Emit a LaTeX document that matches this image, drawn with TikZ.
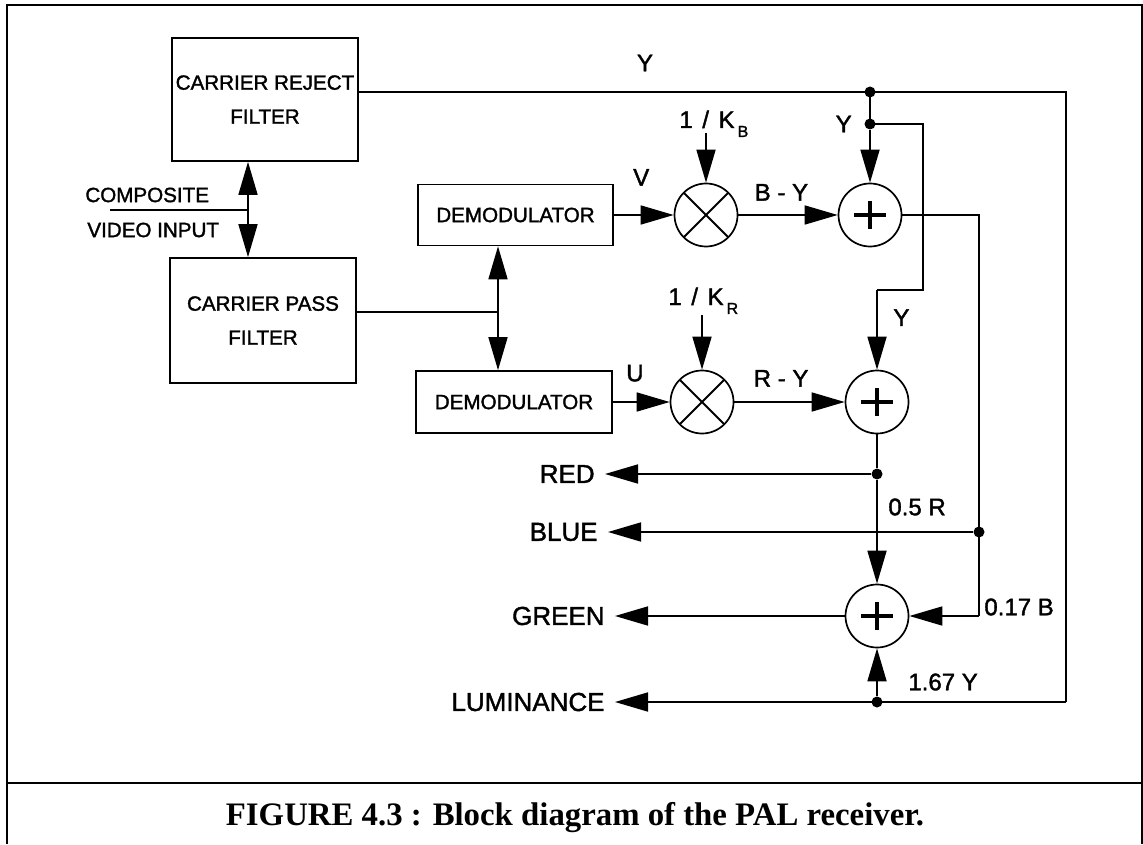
\documentclass[tikz,border=0pt]{standalone}
\usepackage{fontspec}
\setmainfont{Liberation Sans}[BoldFont={Liberation Sans}, BoldFeatures={FakeBold=1.6}]
\newfontfamily\capfont{Liberation Serif}
\usetikzlibrary{arrows.meta,positioning}
\newcommand{\gp}{\hspace{0.4em}}
\newcommand{\subsc}[1]{\kern1.5pt\raisebox{-4.5pt}{\fontsize{8}{8}\selectfont #1}}
\tikzset{
  blk/.style  ={draw, line width=0.85pt, align=center, inner sep=0pt, font=\bfseries\fontsize{10.3}{17}\selectfont},
  txt/.style  ={inner sep=0pt, anchor=west, font=\bfseries\fontsize{10.3}{12}\selectfont},
  mix/.style  ={circle, draw, line width=0.85pt, minimum size=31.5pt, inner sep=0pt,
                path picture={\draw[line width=1pt]
                  ([shift={(45:17pt)}]path picture bounding box.center) -- ([shift={(225:17pt)}]path picture bounding box.center)
                  ([shift={(135:17pt)}]path picture bounding box.center) -- ([shift={(315:17pt)}]path picture bounding box.center);}},
  sum/.style  ={circle, draw, line width=0.85pt, minimum size=31.5pt, inner sep=0pt,
                path picture={\draw[line width=1.6pt]
                  ([xshift=-8pt]path picture bounding box.center) -- ([xshift=8pt]path picture bounding box.center)
                  ([yshift=-7pt]path picture bounding box.center) -- ([yshift=7pt]path picture bounding box.center);}},
  jn/.style   ={circle, fill, inner sep=0pt, minimum size=5.5pt},
  lbl/.style  ={inner sep=0pt, font=\bfseries\fontsize{12}{14}\selectfont},
  outl/.style ={anchor=east, inner xsep=5pt, inner ysep=0pt, font=\bfseries\fontsize{13}{15}\selectfont},
  wire/.style ={line width=0.85pt},
  arr/.style  ={-{Triangle[length=16.5pt,width=9.5pt]}, line width=0.85pt},
  frm/.style  ={line width=1.2pt},
}

\begin{document}
\begin{tikzpicture}[x=0.5pt, y=-0.5pt]
  \useasboundingbox (0,0) rectangle (1143,844);
  % frame and caption
  \draw[frm] (7,844) -- (7,5) -- (1142,5) -- (1142,844);
  \draw[frm] (7,783) -- (1142,783);
  \node[anchor=base, inner sep=0pt, font=\capfont\bfseries\fontsize{16.4}{18}\selectfont] (cap) at (575,825)
    {FIGURE 4.3 : Block diagram of the PAL receiver.};
  % filters and demodulators
  \node[blk, minimum width=93pt, minimum height=61.5pt] (crf) at (265,99.5) {CARRIER REJECT\\FILTER};
  \node[blk, minimum width=93pt, minimum height=62.5pt] (cpf) at (263,320.5) {CARRIER PASS\\FILTER};
  \node[blk, minimum width=97.5pt, minimum height=30.5pt] (dmv) at (515.5,215) {DEMODULATOR};
  \node[blk, minimum width=98pt, minimum height=31pt] (dmu) at (514,402) {DEMODULATOR};
  % multipliers and adders
  \node[mix] (mxv) at (706,215) {};
  \node[mix] (mxu) at (702,402) {};
  \node[sum] (smb) at (870,215) {};
  \node[sum] (smr) at (877,402) {};
  \node[sum] (smg) at (877,616) {};
  % junctions
  \node[jn] (jy1) at (870,92) {};
  \node[jn] (jy2) at (870,124) {};
  \node[jn] (rdot) at (877,474) {};
  \node[jn] (bdot) at (979,532) {};
  \node[jn] (ldot) at (877,702) {};
  \coordinate (cin) at (110,210);
  \coordinate (jin) at (248,210);
  \coordinate (jd) at (498,312);
  \coordinate (kb) at (706,133);
  \coordinate (kr) at (702,315);
  \coordinate (cr) at (1066,92);
  \coordinate (cb) at (1066,702);
  \coordinate (c1) at (923,124);
  \coordinate (c2) at (923,290);
  \coordinate (c3) at (877,290);
  \coordinate (cbt) at (979,215);
  \coordinate (cgr) at (979,616);
  % outputs
  \node[outl] (red) at (605,474) {RED};
  \node[outl] (blue) at (608,532) {BLUE};
  \node[outl] (green) at (615,616) {GREEN};
  \node[outl] (lum) at (615,702) {LUMINANCE};
  % labels
  \node[txt] (comp) at (85,195) {COMPOSITE};
  \node[txt] (vin) at (87,230) {VIDEO INPUT};
  \node[lbl] (ytop) at (645,63) {Y};
  \node[lbl, anchor=base west] (kbl) at (679,128) {1\gp/\gp K\subsc{B}};
  \node[lbl, anchor=base west] (krl) at (668,305) {1\gp/\gp K\subsc{R}};
  \node[lbl, above right=14.5pt and 9.5pt of dmv.east] (vl) {V};
  \node[lbl, above right=10pt and 6.5pt of dmu.east] (ul) {U};
  \node[lbl, above right=7pt and 8pt of mxv.east] (byl) {B - Y};
  \node[lbl, above right=7.5pt and 9.5pt of mxu.east] (ryl) {R - Y};
  \node[lbl, left=6pt of jy2] (yl1) {Y};
  \node[lbl, below right=9.5pt and 8pt of c3] (yl2) {Y};
  \node[lbl, anchor=west] (rl) at (888,507) {0.5 R};
  \node[lbl, anchor=west] (bl) at (984,607) {0.17 B};
  \node[lbl, anchor=west] (yl3) at (908,682) {1.67 Y};
  % input side
  \draw[wire] (cin) -- (jin);
  \draw[arr] (jin) -- (jin |- crf.south);
  \draw[arr] (jin) -- (jin |- cpf.north);
  \draw[wire] (cpf.east |- jd) -- (jd);
  \draw[arr] (jd) -- (jd |- dmv.south);
  \draw[arr] (jd) -- (jd |- dmu.north);
  % colour difference paths
  \draw[arr] (dmv) -- (mxv);
  \draw[arr] (kb) -- (mxv);
  \draw[arr] (mxv) -- (smb);
  \draw[arr] (dmu) -- (mxu);
  \draw[arr] (kr) -- (mxu);
  \draw[arr] (mxu) -- (smr);
  % luminance paths
  \draw[wire] (crf.east |- jy1) -- (cr) -- (cb);
  \draw[arr] (cb) -- (lum);
  \draw[wire] (jy1.center) -- (jy2.center);
  \draw[arr] (jy2) -- (smb);
  \draw[wire] (jy2.center) -- (c1) -- (c2) -- (c3);
  \draw[arr] (c3) -- (smr);
  % matrix to outputs
  \draw[wire] (smb.east) -- (cbt) -- (cgr);
  \draw[arr] (cgr) -- (smg);
  \draw[arr] (bdot) -- (blue);
  \draw[wire] (smr) -- (rdot);
  \draw[arr] (rdot) -- (smg);
  \draw[arr] (rdot) -- (red);
  \draw[arr] (smg) -- (green);
  \draw[arr] (ldot) -- (smg);
\end{tikzpicture}
\end{document}
